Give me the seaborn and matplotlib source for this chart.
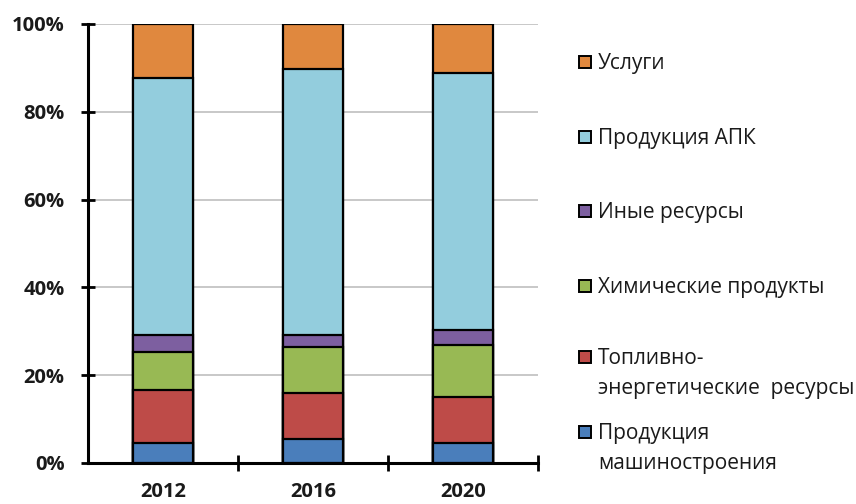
import matplotlib
matplotlib.use("Agg")
import matplotlib.pyplot as plt
import matplotlib.patches as mpatches
from matplotlib.ticker import FuncFormatter, FixedLocator
import numpy as np
import pandas as pd
import seaborn as sns

years = ["2012", "2016", "2020"]
categories = ["Продукция машиностроения", "Топливно-энергетические ресурсы",
              "Химические продукты", "Иные ресурсы", "Продукция АПК", "Услуги"]
legend_labels = [["Продукция", "машиностроения"], ["Топливно-", "энергетические  ресурсы"],
                 ["Химические продукты"], ["Иные ресурсы"], ["Продукция АПК"], ["Услуги"]]
machinery = [4.5, 5.5, 4.5]
fuel = [12.1, 10.4, 10.5]
chemicals = [8.6, 10.5, 11.9]
other = [4.0, 2.8, 3.5]
agro = [58.4, 60.6, 58.4]
services = [12.4, 10.2, 11.2]
colors = ["#4A7EBB", "#BE4B48", "#98B954", "#7D5FA0", "#93CDDD", "#E0883E"]

series = [machinery, fuel, chemicals, other, agro, services]
rows = []
for cat, vals in zip(categories, series):
    for y, v in zip(years, vals):
        rows.append({"year": y, "category": cat, "value": v})
df = pd.DataFrame(rows)
df["cum"] = df.groupby("year")["value"].cumsum()

sns.set_style("white")
plt.rcParams["font.family"] = ["Open Sans", "DejaVu Sans"]

fig = plt.figure(figsize=(8.56, 5.04), dpi=100)
W, H = 856, 504
ax = fig.add_axes([88 / W, (H - 463) / H, 450 / W, 439 / H])

# draw cumulative layers from top to bottom
for cat, col in reversed(list(zip(categories, colors))):
    sub = df[df["category"] == cat]
    sns.barplot(data=sub, x="year", y="cum", order=years, color=col,
                edgecolor="black", linewidth=1.6, width=0.4, errorbar=None,
                saturation=1, ax=ax, zorder=3)

ax.set_xlim(-0.5, 2.5)
ax.set_ylim(0, 100)
ax.set_yticks([0, 20, 40, 60, 80, 100])
ax.yaxis.set_major_formatter(FuncFormatter(lambda v, p: f"{int(v)}%"))
ax.set_xlabel("")
ax.set_ylabel("")
ax.grid(axis="y", color="#BFBFBF", linewidth=1.2, zorder=0)
ax.set_axisbelow(True)
for s in ["top", "right"]:
    ax.spines[s].set_visible(False)
for s in ["left", "bottom"]:
    ax.spines[s].set_color("black")
    ax.spines[s].set_linewidth(2.2)
    ax.spines[s].set_zorder(5)

ax.tick_params(axis="y", direction="inout", length=10, width=2, color="black",
               labelsize=14.5, pad=12, left=True)
ax.tick_params(axis="x", which="major", length=0, labelsize=14.5, pad=14, bottom=True)
ax.xaxis.set_minor_locator(FixedLocator([0.5, 1.5, 2.5]))
ax.tick_params(axis="x", which="minor", direction="inout", length=12, width=2,
               color="black", bottom=True)
for lab in ax.get_yticklabels() + ax.get_xticklabels():
    lab.set_fontweight("bold")
    lab.set_color("#1a1a1a")

# legend (drawn in figure pixel coords)
fs = 15
cap_half = fs * 100 / 72 * 0.714 / 2
ys = [432, 357, 286, 211, 137, 62]
for lines, col, yc in zip(legend_labels, colors, ys):
    rect = mpatches.Rectangle((579 / W, (H - yc - 6) / H), 12 / W, 12 / H,
                              transform=fig.transFigure, facecolor=col,
                              edgecolor="black", linewidth=1.4)
    fig.patches.append(rect)
    for i, line in enumerate(lines):
        yl = yc + i * 30
        fig.text(598 / W, (H - yl - cap_half) / H, line, fontsize=fs, color="#1a1a1a",
                 va="baseline", ha="left")

fig.savefig("out.png", dpi=100)
